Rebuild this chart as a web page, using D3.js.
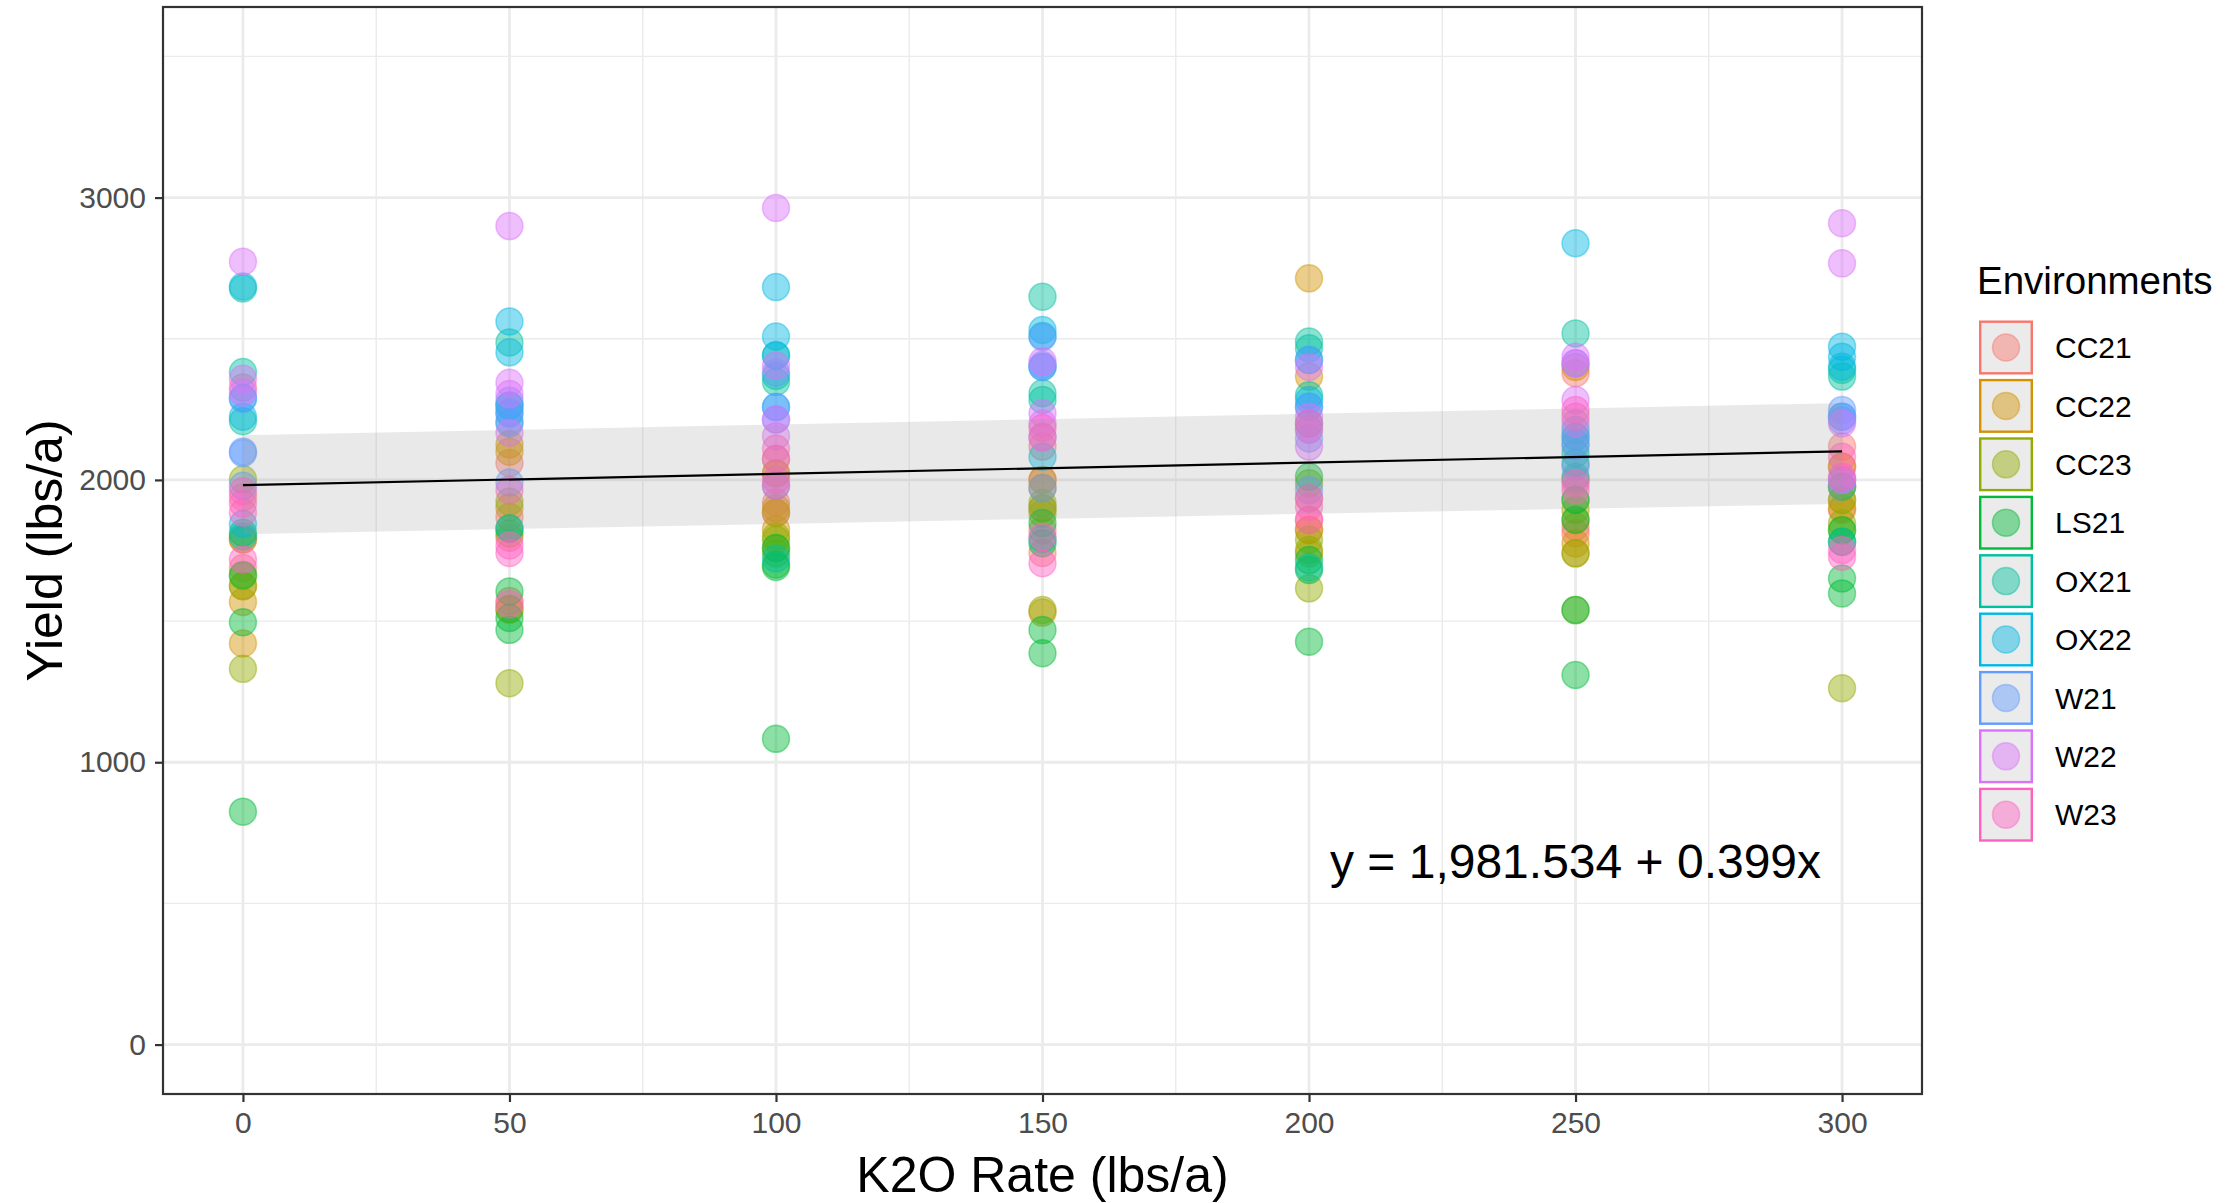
<!DOCTYPE html>
<html>
<head>
<meta charset="utf-8">
<script src="https://cdn.jsdelivr.net/npm/d3@7"></script>
<style>
  html, body { margin: 0; padding: 0; background: #ffffff; }
  svg { display: block; font-family: "Liberation Sans", Arial, sans-serif; }
</style>
</head>
<body>
<svg id="chart" width="2239" height="1203"></svg>
<script>
// ---------------- data ----------------
const rates = [0, 50, 100, 150, 200, 250, 300];
const environments = ["CC21", "CC22", "CC23", "LS21", "OX21", "OX22", "W21", "W22", "W23"];
const envColors = ["#F8766D", "#D39200", "#93AA00", "#00BA38", "#00C19F", "#00B9E3", "#619CFF", "#DB72FB", "#FF61C3"];

// yields per environment: one list per K2O rate (0..300)
const yieldCC21 = [[2327, 1939, 1688, 1790], [2060, 1869, 1795, 1571], [2074, 2023, 1920, 1883], [2118, 1822, 1741, 2000], [1935, 1823, 1858, 2180], [2378, 1834, 1811, 2000], [2118, 2047, 1894, 1976]];
const yieldCC22 = [[1789, 1568, 1421, 1624], [2126, 2100, 1902, 1540], [2023, 1883, 1825, 1900], [2000, 1971, 1530, 1900], [2714, 2366, 1823, 1740], [2400, 1775, 1740, 1860], [1929, 1976, 1900, 2047]];
const yieldCC23 = [[2002, 1624, 1331, 1660], [1923, 1544, 1280, 1810], [1788, 1759, 1800, 1740], [1918, 1900, 1539, 1880], [1988, 1788, 1752, 1616], [1929, 1894, 1539, 1740], [1846, 1929, 1822, 1262]];
const yieldLS21 = [[1813, 1663, 1496, 825], [1605, 1511, 1469, 1828], [1692, 1700, 1083, 1759], [1847, 1776, 1468, 1386], [2011, 1716, 1681, 1427], [1858, 1539, 1309, 1930], [1781, 1822, 1651, 1598]];
const yieldOX21 = [[2678, 2382, 2208, 1800], [2487, 2263, 1828, 2200], [2368, 2347, 1722, 2440], [2649, 2307, 2283, 1790], [2490, 2466, 2300, 1690], [2519, 2094, 2011, 2060], [2366, 2390, 1976, 1780]];
const yieldOX22 = [[2685, 2224, 2290, 1844], [2561, 2452, 2235, 2263], [2683, 2508, 2442, 2258], [2531, 2510, 2082, 2400], [2425, 2283, 2259, 2200], [2838, 2177, 2153, 2130], [2472, 2436, 2401, 2224]];
const yieldW21  = [[2287, 2101, 2095, 1979], [2208, 2280, 1991, 2240], [2258, 2214, 2380, 1979], [2506, 2407, 2400, 1971], [2425, 2259, 2147, 1964], [2413, 2047, 2153, 2120], [2248, 2224, 2000, 2210]];
const yieldW22  = [[2773, 2358, 2310], [2899, 2344, 2304, 2167], [2963, 2405, 2155, 2214], [2236, 2420, 2150, 2200], [2224, 2177, 2118, 2400], [2436, 2283, 2413, 2200], [2909, 2767, 2200, 2000]];
const yieldW23  = [[1916, 1884, 1718, 1960], [1964, 1768, 1741, 1560], [2111, 2074, 1979, 2000], [2184, 2153, 1799, 1705], [2200, 1935, 1905, 1858], [2248, 2224, 1988, 1964], [2082, 2011, 1752, 1728]];
const yieldsByEnv = [yieldCC21, yieldCC22, yieldCC23, yieldLS21, yieldOX21, yieldOX22, yieldW21, yieldW22, yieldW23];

// fitted regression line and its confidence band
const fitX = [0, 300];
const fitY = [1981.534, 2101.234];
const bandX = [0, 50, 100, 150, 200, 250, 300];
const bandUpper = [2158, 2177, 2196, 2215, 2234, 2253, 2272];
const bandLower = [1808, 1826, 1844, 1862, 1880, 1898, 1915];

const equationText = "y = 1,981.534 + 0.399x";
const equationPos = [250, 650];

const xTicks = [0, 50, 100, 150, 200, 250, 300];
const xMinor = [25, 75, 125, 175, 225, 275];
const yTicks = [0, 1000, 2000, 3000];
const yMinor = [500, 1500, 2500, 3500];

const xTitle = "K2O Rate (lbs/a)";
const yTitle = "Yield (lbs/a)";
const legendTitle = "Environments";

// ---------------- layout ----------------
const panel = { left: 163, right: 1922, top: 7, bottom: 1094 };
const svg = d3.select("#chart");

const x = d3.scaleLinear().domain([-15, 315]).range([panel.left, panel.right]);
const y = d3.scaleLinear().domain([-175, 3675]).range([panel.bottom, panel.top]);

svg.append("rect").attr("x", 0).attr("y", 0).attr("width", 2239).attr("height", 1203).attr("fill", "#ffffff");

// grid
const grid = svg.append("g");
grid.selectAll(".ymin").data(yMinor).join("line")
  .attr("x1", panel.left).attr("x2", panel.right)
  .attr("y1", d => y(d)).attr("y2", d => y(d))
  .attr("stroke", "#EBEBEB").attr("stroke-width", 1.4);
grid.selectAll(".xmin").data(xMinor).join("line")
  .attr("y1", panel.top).attr("y2", panel.bottom)
  .attr("x1", d => x(d)).attr("x2", d => x(d))
  .attr("stroke", "#EBEBEB").attr("stroke-width", 1.4);
grid.selectAll(".ymaj").data(yTicks).join("line")
  .attr("x1", panel.left).attr("x2", panel.right)
  .attr("y1", d => y(d)).attr("y2", d => y(d))
  .attr("stroke", "#EBEBEB").attr("stroke-width", 2.8);
grid.selectAll(".xmaj").data(xTicks).join("line")
  .attr("y1", panel.top).attr("y2", panel.bottom)
  .attr("x1", d => x(d)).attr("x2", d => x(d))
  .attr("stroke", "#EBEBEB").attr("stroke-width", 2.8);

// points
const pts = [];
yieldsByEnv.forEach((env, ei) => {
  env.forEach((vals, ri) => {
    vals.forEach(v => pts.push({ env: ei, rate: rates[ri], val: v }));
  });
});
svg.append("g").selectAll("circle").data(pts).join("circle")
  .attr("cx", d => x(d.rate))
  .attr("cy", d => y(d.val))
  .attr("r", 13.5)
  .attr("fill", d => envColors[d.env])
  .attr("fill-opacity", 0.45)
  .attr("stroke", d => envColors[d.env])
  .attr("stroke-opacity", 0.45)
  .attr("stroke-width", 1.5);

// confidence band
const bandData = bandX.map((bx, i) => ({ x: bx, lo: bandLower[i], hi: bandUpper[i] }));
svg.append("path").datum(bandData)
  .attr("d", d3.area().x(d => x(d.x)).y0(d => y(d.lo)).y1(d => y(d.hi)))
  .attr("fill", "#999999").attr("fill-opacity", 0.22);

// fit line
svg.append("path").datum(fitX.map((fx, i) => [fx, fitY[i]]))
  .attr("d", d3.line().x(d => x(d[0])).y(d => y(d[1])))
  .attr("fill", "none").attr("stroke", "#000000").attr("stroke-width", 2.2);

// panel border
svg.append("rect")
  .attr("x", panel.left).attr("y", panel.top)
  .attr("width", panel.right - panel.left).attr("height", panel.bottom - panel.top)
  .attr("fill", "none").attr("stroke", "#333333").attr("stroke-width", 2.2);

// axes
const xAxis = svg.append("g").attr("transform", `translate(0,${panel.bottom})`)
  .call(d3.axisBottom(x).tickValues(xTicks).tickSize(8).tickPadding(10).tickFormat(d3.format("d")));
const yAxis = svg.append("g").attr("transform", `translate(${panel.left},0)`)
  .call(d3.axisLeft(y).tickValues(yTicks).tickSize(8).tickPadding(9).tickFormat(d3.format("d")));
[xAxis, yAxis].forEach(a => {
  a.select(".domain").remove();
  a.selectAll(".tick line").attr("stroke", "#333333").attr("stroke-width", 2.2);
  a.selectAll(".tick text").attr("fill", "#4D4D4D")
    .style("font-size", "30px").style("font-family", "'Liberation Sans', Arial, sans-serif");
});

// equation
svg.append("text")
  .attr("x", x(equationPos[0])).attr("y", y(equationPos[1]))
  .attr("dy", "0.35em").attr("text-anchor", "middle")
  .style("font-size", "48px").attr("fill", "#000000")
  .text(equationText);

// axis titles
svg.append("text")
  .attr("x", (panel.left + panel.right) / 2).attr("y", 1192)
  .attr("text-anchor", "middle").style("font-size", "50px").attr("fill", "#000")
  .text(xTitle);
svg.append("text")
  .attr("transform", `translate(62,${(panel.top + panel.bottom) / 2}) rotate(-90)`)
  .attr("text-anchor", "middle").style("font-size", "50px").attr("fill", "#000")
  .text(yTitle);

// legend
const legend = svg.append("g");
legend.append("text").attr("x", 1977).attr("y", 294)
  .style("font-size", "38.5px").attr("fill", "#000").text(legendTitle);
const keyTop = 320.5, keyStep = 58.4, keySize = 54, keyLeft = 1979;
const keys = legend.selectAll(".key").data(environments).join("g")
  .attr("transform", (d, i) => `translate(${keyLeft},${keyTop + i * keyStep})`);
keys.append("rect")
  .attr("x", 1.2).attr("y", 1.2).attr("width", keySize - 2.4).attr("height", keySize - 2.4)
  .attr("fill", "#EBEBEB")
  .attr("stroke", (d, i) => envColors[i]).attr("stroke-width", 2.4);
keys.append("circle")
  .attr("cx", keySize / 2).attr("cy", keySize / 2).attr("r", 13.5)
  .attr("fill", (d, i) => envColors[i]).attr("fill-opacity", 0.45)
  .attr("stroke", (d, i) => envColors[i]).attr("stroke-opacity", 0.45).attr("stroke-width", 1.5);
keys.append("text")
  .attr("x", 2055 - keyLeft).attr("y", keySize / 2).attr("dy", "0.36em")
  .style("font-size", "30px").attr("fill", "#000")
  .text(d => d);
</script>
</body>
</html>
